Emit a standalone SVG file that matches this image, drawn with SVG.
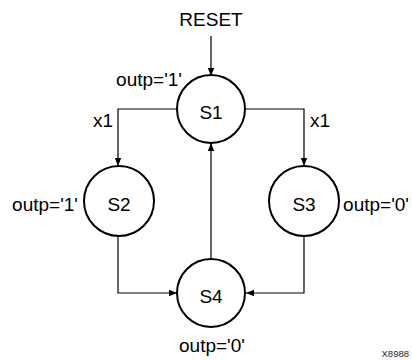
<svg xmlns="http://www.w3.org/2000/svg" width="412" height="360" viewBox="0 0 412 360">
<defs>
<style>
text{font-family:"Liberation Sans",Arial,sans-serif;font-size:19px;fill:#000}
.st{fill:#fff;stroke:#000;stroke-width:2}
.c{fill:none;stroke:#000;stroke-width:1.2}
.sm{font-size:9.5px;fill:#222}
</style>
<marker id="ah" viewBox="0 0 10 10" refX="10" refY="5" markerWidth="8" markerHeight="8" markerUnits="userSpaceOnUse" orient="auto">
<path d="M0,1 L10,5 L0,9 Z" fill="#000"/>
</marker>
</defs>
<g id="connectors">
<line class="c" x1="211" y1="36" x2="211" y2="76" marker-end="url(#ah)"/>
<polyline class="c" points="177,109 118,109 118,166" marker-end="url(#ah)"/>
<polyline class="c" points="245,109 304,109 304,166" marker-end="url(#ah)"/>
<polyline class="c" points="118,236 118,293 177,293" marker-end="url(#ah)"/>
<polyline class="c" points="304,236 304,293 246,293" marker-end="url(#ah)"/>
<line class="c" x1="211" y1="259" x2="211" y2="143" marker-end="url(#ah)"/>
</g>
<g id="S1"><circle class="st" cx="211" cy="109" r="34"/><text x="211" y="119" text-anchor="middle">S1</text></g>
<g id="S2"><circle class="st" cx="119" cy="201" r="35"/><text x="119" y="211" text-anchor="middle">S2</text></g>
<g id="S3"><circle class="st" cx="304" cy="201" r="35"/><text x="304" y="211" text-anchor="middle">S3</text></g>
<g id="S4"><circle class="st" cx="211" cy="293" r="34"/><text x="211" y="303" text-anchor="middle">S4</text></g>
<g id="labels">
<text x="211" y="26" text-anchor="middle">RESET</text>
<text x="182" y="86" text-anchor="end">outp='1'</text>
<text x="113" y="127" text-anchor="end">x1</text>
<text x="310" y="127">x1</text>
<text x="78" y="211" text-anchor="end">outp='1'</text>
<text x="409" y="211" text-anchor="end">outp='0'</text>
<text x="212" y="352" text-anchor="middle">outp='0'</text>
<text class="sm" x="409" y="357" text-anchor="end">X8988</text>
</g>
</svg>
